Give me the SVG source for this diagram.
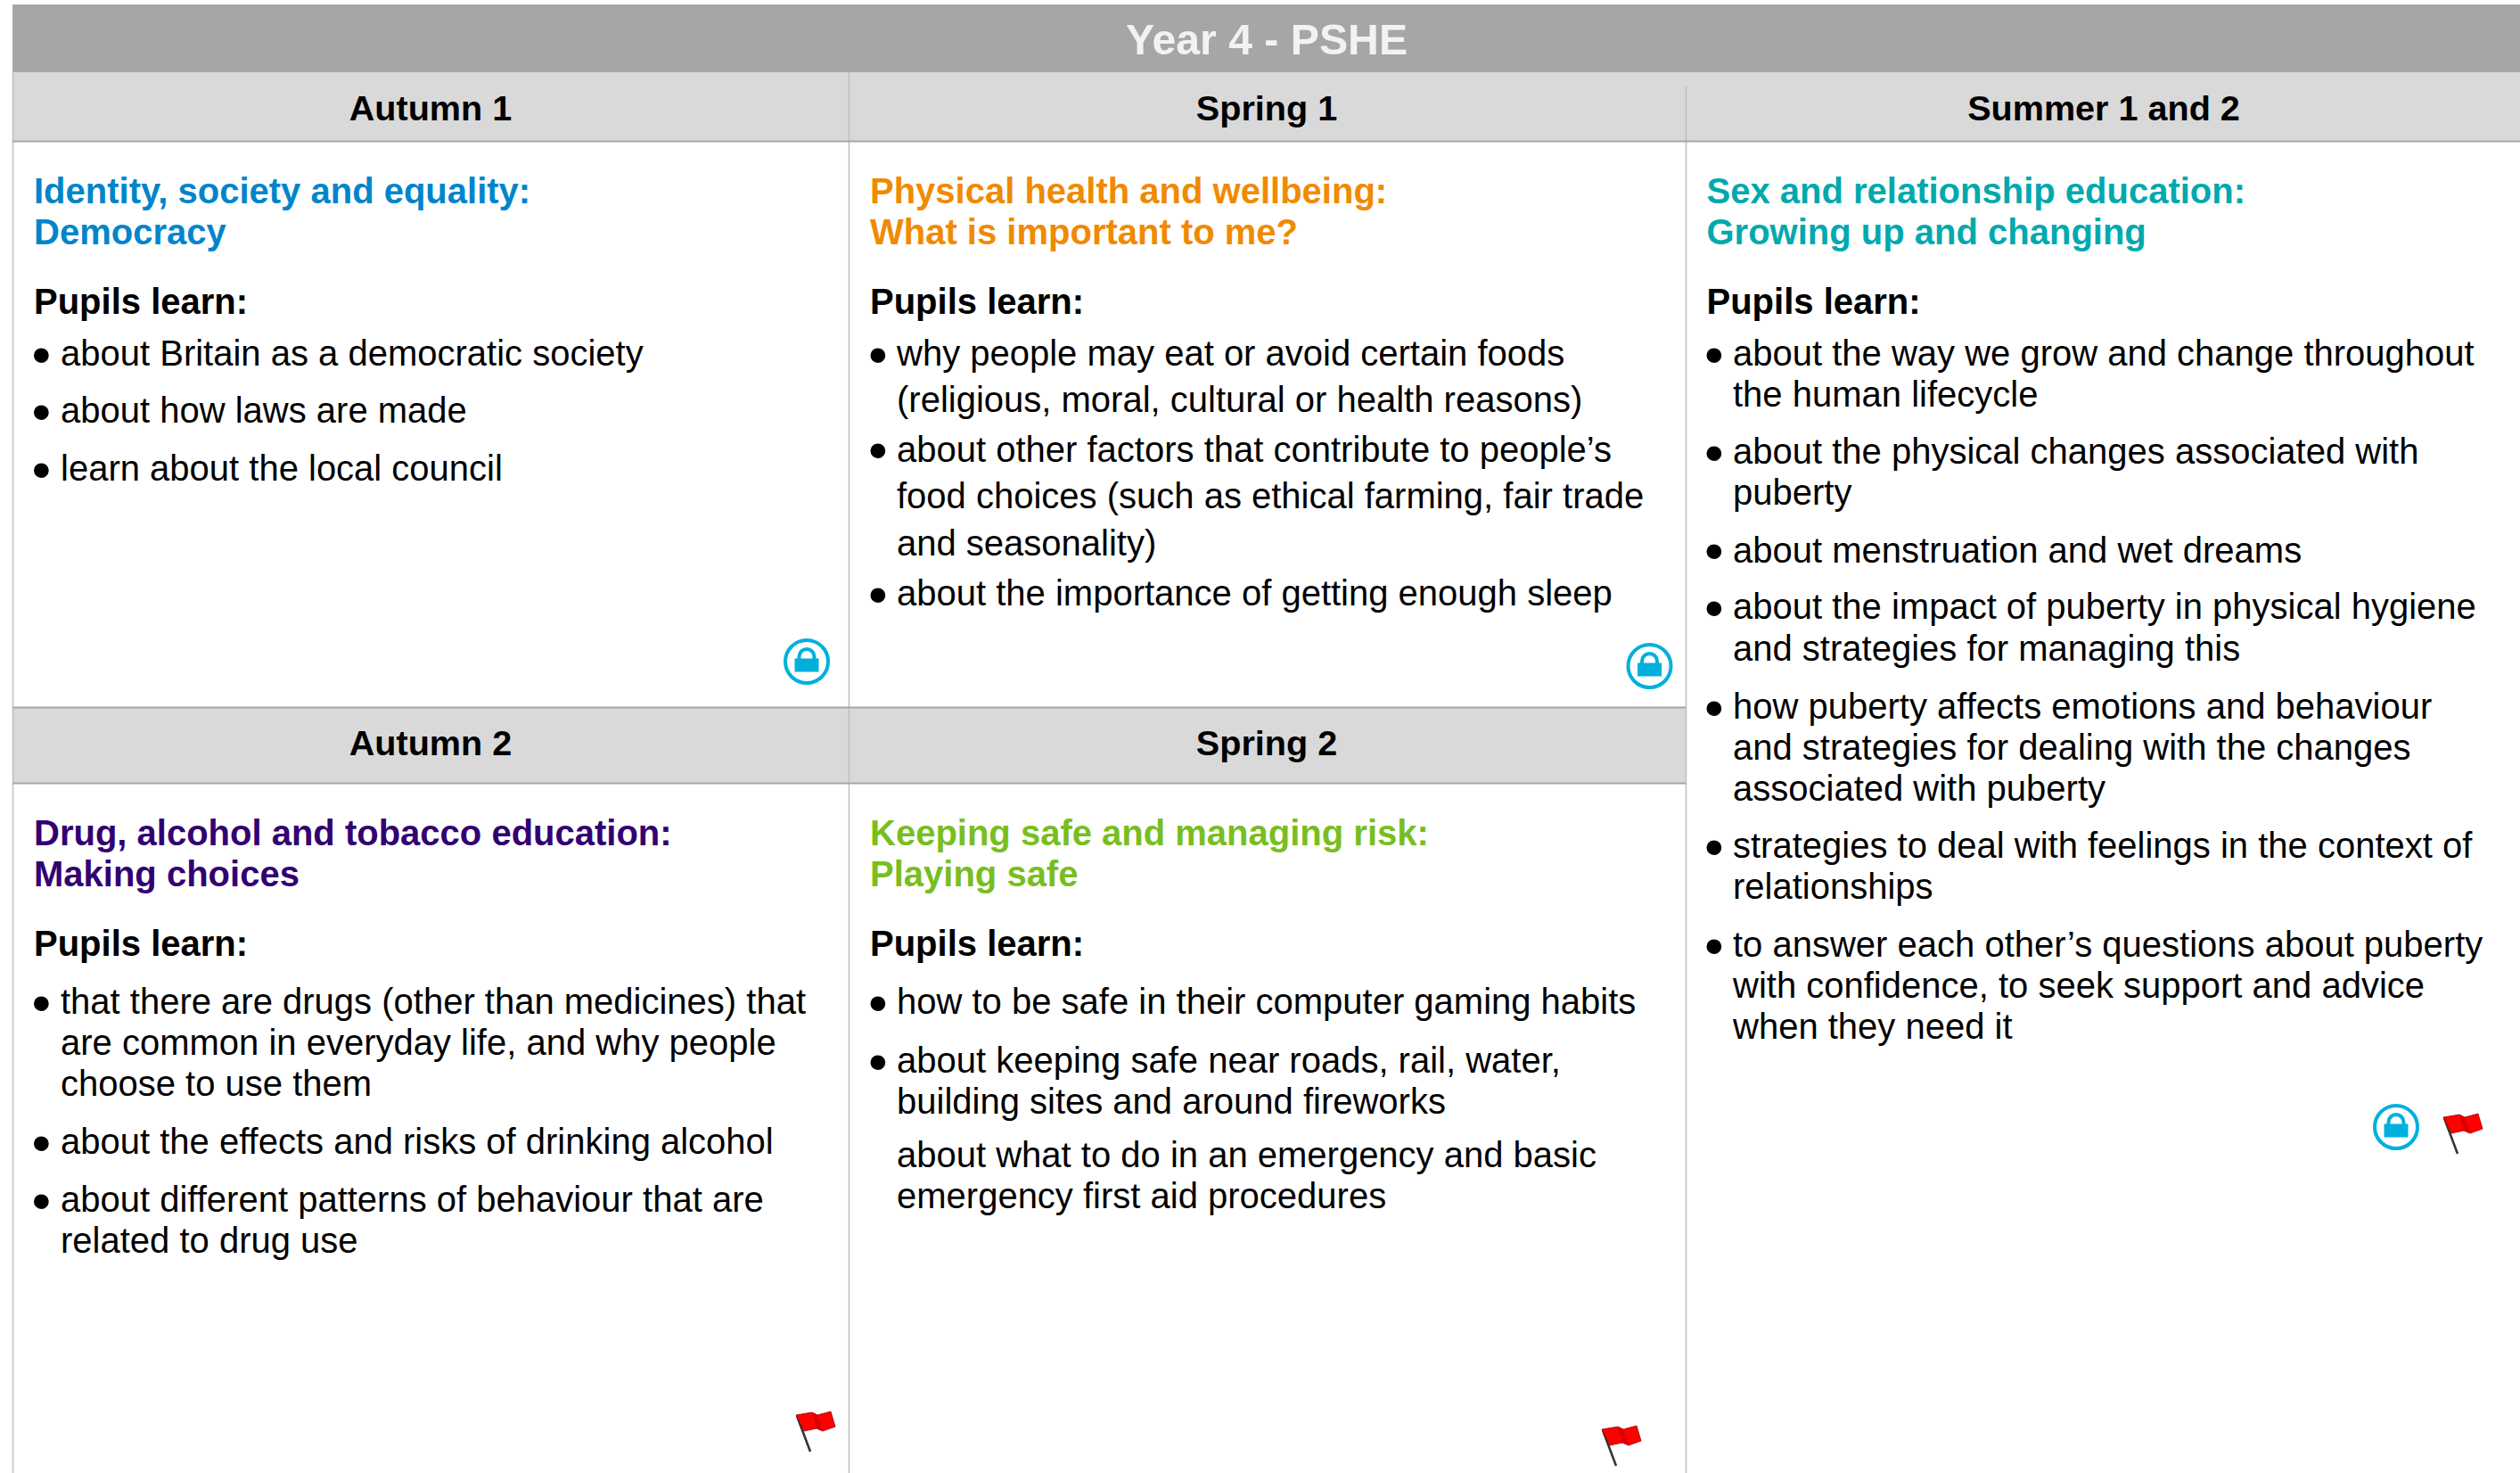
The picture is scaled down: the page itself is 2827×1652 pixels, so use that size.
<svg xmlns="http://www.w3.org/2000/svg" width="2827" height="1652" viewBox="0 0 2827 1652">
<style>
text{font-family:"Liberation Sans",Arial,sans-serif}
.t{font-size:40px;fill:#000}
.b{font-size:62px;fill:#000}
.p{font-size:40px;font-weight:700;fill:#000}
.h{font-size:39.600px;font-weight:700;fill:#000;text-anchor:middle}
.g{font-size:40px;font-weight:700}
.band{fill:#d9d9d9}
.rule{stroke:#a6a6a6;stroke-width:2;fill:none}
.grid{stroke:#bfbfbf;stroke-width:1.500;fill:none}
</style>
<defs>
<g id="lock"><circle r="24" fill="#fff" stroke="#00b0dc" stroke-width="4"/><rect x="-13.500" y="-3.500" width="27" height="15" fill="#00b0dc"/><path d="M-8.500-3V-5.500a8.500 8.500 0 0 1 17 0V-3" fill="none" stroke="#00b0dc" stroke-width="4"/></g>
<g id="flag"><path d="M1 1L16 41" stroke="#333" stroke-width="2.600"/><path d="M0 0L18-3L24 0L39-4L44 13L30 18L23 15L9 18Z" fill="#f00" stroke="#900" stroke-width=".8"/><path d="M18-3L24 0L30 18L23 15Z" fill="#d80000"/></g>
</defs>
<g id="title"><rect x="14" y="5" width="2813" height="76" fill="#a6a6a6"/><text x="1421" y="61" text-anchor="middle" font-size="48.200" font-weight="700" fill="#f2f2f2">Year 4 - PSHE</text></g>
<g id="frame">
<rect class="band" x="14" y="81" width="2813" height="77"/>
<rect class="band" x="14" y="793" width="1877" height="85"/>
<path class="grid" d="M14.500 81V1652M952.500 81V1652M1891.500 97V1652"/>
<path class="rule" d="M14 158.500H2827M14 793.500H1891M14 878.500H1891"/>
</g>
<g id="autumn-1">
<text class="h" x="483" y="135">Autumn 1</text>
<text class="g" fill="#0085ca"><tspan x="38" y="228">Identity, society and equality:</tspan><tspan x="38" y="274">Democracy</tspan></text>
<text class="p" x="38" y="352">Pupils learn:</text>
<text class="b" x="35.500" y="418.500">•</text><text class="t" x="68" y="410">about Britain as a democratic society</text>
<text class="b" x="35.500" y="482.500">•</text><text class="t" x="68" y="474">about how laws are made</text>
<text class="b" x="35.500" y="547.500">•</text><text class="t" x="68" y="539">learn about the local council</text>
<use href="#lock" x="905" y="742"/>
</g>
<g id="spring-1">
<text class="h" x="1421" y="135">Spring 1</text>
<text class="g" fill="#f08a00"><tspan x="976" y="228">Physical health and wellbeing:</tspan><tspan x="976" y="274">What is important to me?</tspan></text>
<text class="p" x="976" y="352">Pupils learn:</text>
<text class="b" x="974" y="418.500">•</text><text class="t"><tspan x="1006" y="410">why people may eat or avoid certain foods</tspan><tspan x="1006" y="461.500">(religious, moral, cultural or health reasons)</tspan></text>
<text class="b" x="974" y="526">•</text><text class="t"><tspan x="1006" y="517.500">about other factors that contribute to people’s</tspan><tspan x="1006" y="570">food choices (such as ethical farming, fair trade</tspan><tspan x="1006" y="623">and seasonality)</tspan></text>
<text class="b" x="974" y="687.500">•</text><text class="t" x="1006" y="679">about the importance of getting enough sleep</text>
<use href="#lock" x="1850.500" y="747"/>
</g>
<g id="summer">
<text class="h" x="2360" y="135">Summer 1 and 2</text>
<text class="g" fill="#00a9ae"><tspan x="1914.500" y="228">Sex and relationship education:</tspan><tspan x="1914.500" y="274">Growing up and changing</tspan></text>
<text class="p" x="1914.500" y="352">Pupils learn:</text>
<text class="b" x="1912" y="418.500">•</text><text class="t"><tspan x="1944" y="410">about the way we grow and change throughout</tspan><tspan x="1944" y="456">the human lifecycle</tspan></text>
<text class="b" x="1912" y="528.500">•</text><text class="t"><tspan x="1944" y="520">about the physical changes associated with</tspan><tspan x="1944" y="566">puberty</tspan></text>
<text class="b" x="1912" y="639">•</text><text class="t" x="1944" y="630.500">about menstruation and wet dreams</text>
<text class="b" x="1912" y="702.500">•</text><text class="t"><tspan x="1944" y="694">about the impact of puberty in physical hygiene</tspan><tspan x="1944" y="740.500">and strategies for managing this</tspan></text>
<text class="b" x="1912" y="814.500">•</text><text class="t"><tspan x="1944" y="806">how puberty affects emotions and behaviour</tspan><tspan x="1944" y="852">and strategies for dealing with the changes</tspan><tspan x="1944" y="898">associated with puberty</tspan></text>
<text class="b" x="1912" y="970.500">•</text><text class="t"><tspan x="1944" y="962">strategies to deal with feelings in the context of</tspan><tspan x="1944" y="1008">relationships</tspan></text>
<text class="b" x="1912" y="1081.500">•</text><text class="t"><tspan x="1944" y="1073">to answer each other’s questions about puberty</tspan><tspan x="1944" y="1119">with confidence, to seek support and advice</tspan><tspan x="1944" y="1165">when they need it</tspan></text>
<use href="#lock" x="2688" y="1264"/>
<use href="#flag" x="2741" y="1253"/>
</g>
<g id="autumn-2">
<text class="h" x="483" y="847">Autumn 2</text>
<text class="g" fill="#330072"><tspan x="38" y="948">Drug, alcohol and tobacco education:</tspan><tspan x="38" y="994">Making choices</tspan></text>
<text class="p" x="38" y="1072">Pupils learn:</text>
<text class="b" x="35.500" y="1145.500">•</text><text class="t"><tspan x="68" y="1137">that there are drugs (other than medicines) that</tspan><tspan x="68" y="1183">are common in everyday life, and why people</tspan><tspan x="68" y="1229">choose to use them</tspan></text>
<text class="b" x="35.500" y="1302.500">•</text><text class="t" x="68" y="1294">about the effects and risks of drinking alcohol</text>
<text class="b" x="35.500" y="1367.500">•</text><text class="t"><tspan x="68" y="1359">about different patterns of behaviour that are</tspan><tspan x="68" y="1405">related to drug use</tspan></text>
<use href="#flag" x="893" y="1587"/>
</g>
<g id="spring-2">
<text class="h" x="1421" y="847">Spring 2</text>
<text class="g" fill="#78be20"><tspan x="976" y="948">Keeping safe and managing risk:</tspan><tspan x="976" y="994">Playing safe</tspan></text>
<text class="p" x="976" y="1072">Pupils learn:</text>
<text class="b" x="974" y="1145.500">•</text><text class="t" x="1006" y="1137">how to be safe in their computer gaming habits</text>
<text class="b" x="974" y="1211.500">•</text><text class="t"><tspan x="1006" y="1203">about keeping safe near roads, rail, water,</tspan><tspan x="1006" y="1249">building sites and around fireworks</tspan></text>
<text class="t"><tspan x="1006" y="1309">about what to do in an emergency and basic</tspan><tspan x="1006" y="1355">emergency first aid procedures</tspan></text>
<use href="#flag" x="1797" y="1603"/>
</g>
</svg>
